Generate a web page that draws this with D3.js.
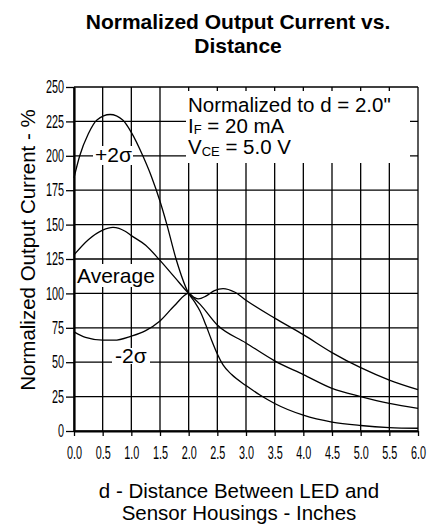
<!DOCTYPE html>
<html>
<head>
<meta charset="utf-8">
<script src="https://cdn.jsdelivr.net/npm/d3@7"></script>
<style>
  body { margin: 0; background: #fff; }
  text { font-family: "Liberation Sans", Arial, Helvetica, sans-serif; fill: #000; }
</style>
</head>
<body>
<div id="chart"></div>
<script>
// ---------- data ----------
const xTicks = [0, 0.5, 1, 1.5, 2, 2.5, 3, 3.5, 4, 4.5, 5, 5.5, 6];
const yTicks = [0, 25, 50, 75, 100, 125, 150, 175, 200, 225, 250];

// +2 sigma curve
const plusDist = [0, 0.1, 0.25, 0.4, 0.63, 0.85, 1.0, 1.2, 1.35, 1.5, 1.62, 1.78, 2.0, 2.1, 2.2, 2.3, 2.4, 2.5, 2.6, 2.75, 3.0, 3.25, 3.5, 4.0, 4.5, 5.0, 5.5, 6.0];
const plusVal  = [184, 200, 216, 226, 230, 226, 217, 200, 185, 167, 150, 125, 100, 94, 87, 77, 66, 56, 48, 41, 33, 26, 20, 11.5, 6.5, 4, 2.5, 2];

// average curve
const avgDist = [0, 0.25, 0.5, 0.68, 0.9, 1.0, 1.25, 1.5, 1.75, 2.0, 2.2, 2.5, 3.0, 3.5, 4.0, 4.5, 5.0, 5.5, 6.0];
const avgVal  = [128, 139, 146, 148, 145, 142, 135, 124, 112, 100, 92, 77, 64, 51, 41, 31, 25, 20, 16.5];

// -2 sigma curve
const minusDist = [0, 0.2, 0.5, 0.7, 1.0, 1.25, 1.5, 1.75, 2.0, 2.1, 2.17, 2.3, 2.45, 2.6, 2.8, 3.0, 3.5, 4.0, 4.5, 5.0, 5.5, 6.0];
const minusVal  = [72, 68, 66, 66, 69, 73, 80, 91, 100, 97, 96, 98, 102, 103.5, 101, 95, 82, 70, 57, 46, 37, 30];

// ---------- svg setup ----------
const margin = { top: 87, right: 12, bottom: 96, left: 74 };
const width = 430;
const height = 527;
const innerW = width - margin.left - margin.right;
const innerH = height - margin.top - margin.bottom;

const svgRoot = d3.select("#chart")
    .append("svg")
    .attr("width", width)
    .attr("height", height);

const svg = svgRoot.append("g")
    .attr("transform", `translate(${margin.left},${margin.top})`);

// scales
const x = d3.scaleLinear().domain([0, 6]).range([0, innerW]);
const y = d3.scaleLinear().domain([0, 250]).range([innerH, 0]);

// grid lines
svg.selectAll(".vgrid")
    .data(xTicks)
    .enter()
    .append("line")
    .attr("x1", d => x(d)).attr("x2", d => x(d))
    .attr("y1", 0).attr("y2", innerH)
    .attr("stroke", "#000")
    .attr("stroke-width", 1.3);

svg.selectAll(".hgrid")
    .data(yTicks)
    .enter()
    .append("line")
    .attr("x1", 0).attr("x2", innerW)
    .attr("y1", d => y(d)).attr("y2", d => y(d))
    .attr("stroke", "#000")
    .attr("stroke-width", 1.3);

// axes
const condense = 0.62;
const gx = svg.append("g")
    .attr("transform", `translate(0,${innerH})`)
    .call(d3.axisBottom(x).tickValues(xTicks).tickFormat(d3.format(".1f"))
        .tickSize(5).tickPadding(10.5).tickSizeOuter(0));
const gy = svg.append("g")
    .call(d3.axisLeft(y).tickValues(yTicks).tickSize(8).tickPadding(2).tickSizeOuter(0));

[gx, gy].forEach(g => {
    g.select(".domain").attr("stroke", "#000").attr("stroke-width", 2.2);
    g.selectAll(".tick line").attr("stroke", "#000").attr("stroke-width", 1.3);
    g.selectAll(".tick text")
        .attr("font-size", "17.5px")
        .attr("font-family", "Liberation Sans, Arial, sans-serif")
        .attr("fill", "#000")
        .attr("transform", `scale(${condense},1)`);
});
gy.selectAll(".tick text").attr("x", -10 / condense);

// curves
const line = d3.line()
    .x(d => x(d[0]))
    .y(d => y(d[1]))
    .curve(d3.curveMonotoneX);

[[plusDist, plusVal], [avgDist, avgVal], [minusDist, minusVal]].forEach(([ds, vs]) => {
    svg.append("path")
        .datum(d3.zip(ds, vs))
        .attr("fill", "none")
        .attr("stroke", "#000")
        .attr("stroke-width", 1.3)
        .attr("d", line);
});

// curve labels with white backing
function label(txt, lx, ly, rx, ry, rw, rh) {
    svg.append("rect")
        .attr("x", rx).attr("y", ry)
        .attr("width", rw).attr("height", rh)
        .attr("fill", "#fff");
    svg.append("text")
        .attr("x", lx).attr("y", ly)
        .attr("font-size", "21px")
        .text(txt);
}
label("+2σ", 21, 75, 19, 59, 40, 19);
label("Average", 3, 196, 2, 177, 80, 23);
label("-2σ", 41, 275.5, 38, 261, 38, 16);

// condition box
svg.append("rect")
    .attr("x", 112).attr("y", 4)
    .attr("width", 224).attr("height", 72)
    .attr("fill", "#fff");

const note = svg.append("g").attr("font-size", "20.5px");
note.append("text").attr("x", 114).attr("y", 25).text("Normalized to d = 2.0\"");
const t2 = note.append("text").attr("x", 114).attr("y", 46);
t2.append("tspan").text("I");
t2.append("tspan").attr("font-size", "13px").attr("dy", 1).text("F");
t2.append("tspan").attr("dy", -1).text(" = 20 mA");
const t3 = note.append("text").attr("x", 114).attr("y", 67);
t3.append("tspan").text("V");
t3.append("tspan").attr("font-size", "13px").attr("dy", 2).text("CE");
t3.append("tspan").attr("dy", -2).text(" = 5.0 V");

// chart title
svgRoot.append("text")
    .attr("x", 238).attr("y", 29)
    .attr("text-anchor", "middle")
    .attr("font-size", "21px").attr("font-weight", "bold")
    .text("Normalized Output Current vs.");
svgRoot.append("text")
    .attr("x", 238).attr("y", 53)
    .attr("text-anchor", "middle")
    .attr("font-size", "21px").attr("font-weight", "bold")
    .text("Distance");

// axis titles
svgRoot.append("text")
    .attr("transform", "translate(35,250) rotate(-90)")
    .attr("text-anchor", "middle")
    .attr("font-size", "20.5px")
    .text("Normalized Output Current - %");
svgRoot.append("text")
    .attr("x", 239).attr("y", 498)
    .attr("text-anchor", "middle")
    .attr("font-size", "20.5px")
    .text("d - Distance Between LED and");
svgRoot.append("text")
    .attr("x", 239).attr("y", 520)
    .attr("text-anchor", "middle")
    .attr("font-size", "20.5px")
    .text("Sensor Housings - Inches");
</script>
</body>
</html>
